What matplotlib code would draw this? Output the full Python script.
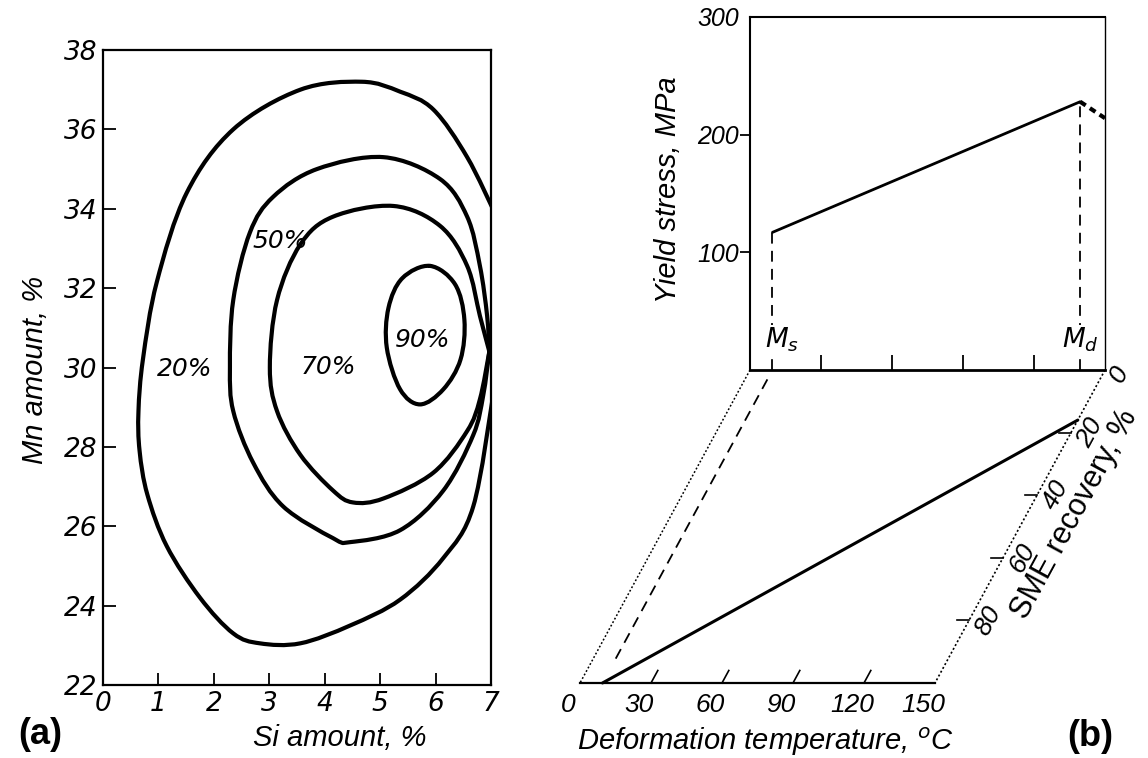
import numpy as np
import matplotlib
matplotlib.use("Agg")
import matplotlib.pyplot as plt
from matplotlib.path import Path
from matplotlib.patches import PathPatch
from matplotlib.lines import Line2D
from matplotlib.transforms import Affine2D

# ---------------- data ----------------
# (a) iso-lines of shape-memory recovery over Si / Mn content (wt.%)
contour_names = ["20%", "50%", "70%", "90%"]
si_20 = [7.10, 6.57, 5.96, 5.36, 4.67, 3.56, 2.35, 1.51, 0.97, 0.72, 0.64, 0.66,
         0.80, 1.15, 1.75, 2.35, 2.83, 3.56, 4.46, 5.36, 6.14, 6.68, 7.05]
mn_20 = [33.8, 35.3, 36.5, 36.95, 37.2, 37.0, 36.0, 34.4, 32.15, 30.2, 28.9, 27.9,
         26.8, 25.5, 24.2, 23.3, 23.05, 23.05, 23.5, 24.15, 25.2, 26.5, 29.4]
si_50 = [6.97, 6.93, 6.80, 6.57, 6.08, 5.06, 3.86, 3.07, 2.65, 2.35, 2.29, 2.35,
         2.71, 3.25, 4.15, 4.46, 5.36, 6.14, 6.68, 6.86, 6.97]
mn_50 = [30.4, 31.3, 32.56, 33.8, 34.75, 35.3, 35.0, 34.3, 33.4, 31.7, 30.0, 28.9,
         27.6, 26.5, 25.7, 25.6, 25.9, 26.9, 28.3, 29.3, 30.4]
si_70 = [6.97, 6.80, 6.57, 6.08, 5.24, 4.15, 3.56, 3.14, 3.01, 3.14, 3.56, 4.15,
         4.51, 5.06, 5.96, 6.57, 6.80, 6.97]
mn_70 = [30.4, 31.3, 32.56, 33.57, 34.07, 33.8, 33.1, 31.7, 30.0, 28.9, 27.8, 26.9,
         26.6, 26.7, 27.35, 28.4, 29.2, 30.4]
si_90 = [5.90, 6.35, 6.52, 6.45, 6.14, 5.72, 5.36, 5.12, 5.15, 5.40]
mn_90 = [32.56, 32.1, 31.2, 30.2, 29.45, 29.07, 29.45, 30.5, 31.5, 32.25]
label_si = [1.48, 3.20, 4.06, 5.76]
label_mn = [29.95, 33.2, 30.0, 30.7]
si_ticks = [0, 1, 2, 3, 4, 5, 6, 7]
mn_ticks = [22, 24, 26, 28, 30, 32, 34, 36, 38]

# (b) yield stress and SME recovery vs deformation temperature
temp_ticks = [0, 30, 60, 90, 120, 150]
stress_ticks = [100, 200, 300]
sme_ticks = [0, 20, 40, 60, 80]
T_ms = 9.5
T_md = 139.5
yield_T = [T_ms, T_md]
yield_MPa = [117, 228]
tail_T = [T_md, 150]
tail_MPa = [228, 214]
sme_T = [T_ms, 150]
sme_pct = [100, 16]

# ---------------- figure ----------------
W, H, DPI = 1148, 758, 100
fig = plt.figure(figsize=(W / DPI, H / DPI), dpi=DPI, facecolor="white")


def px_box(l, t, r, b):
    return [l / W, 1 - b / H, (r - l) / W, (b - t) / H]


def fx(x):
    return x / W


def fy(y):
    return 1 - y / H


NUM_FONT = "DejaVu Sans"
LAB_FONT = "Liberation Sans"


def smooth_path(xs, ys, closed=False):
    """Catmull-Rom curve through the points, emitted as cubic Bezier segments."""
    pts = np.column_stack([xs, ys]).astype(float)
    n = len(pts)
    if closed:
        P = np.vstack([pts[-1], pts, pts[0], pts[1]])
    else:
        P = np.vstack([pts[0], pts, pts[-1]])
    verts = [P[1]]
    codes = [Path.MOVETO]
    nseg = n if closed else n - 1
    for i in range(1, nseg + 1):
        p0, p1, p2, p3 = P[i - 1], P[i], P[i + 1], P[i + 2]
        c1 = p1 + (p2 - p0) / 6.0
        c2 = p2 - (p3 - p1) / 6.0
        verts += [c1, c2, p2]
        codes += [Path.CURVE4] * 3
    return Path(np.array(verts), codes)


# ---------- panel (a) ----------
axa = fig.add_axes(px_box(103, 50, 491, 685))
axa.set_xlim(0, 7)
axa.set_ylim(22, 38)
for sp in axa.spines.values():
    sp.set_linewidth(1.6)
axa.set_xticks(si_ticks)
axa.set_yticks(mn_ticks)
axa.tick_params(direction="in", length=9, width=1.3, labelsize=19, pad=4)
for lbl in axa.get_xticklabels() + axa.get_yticklabels():
    lbl.set_fontstyle("italic")
    lbl.set_family(NUM_FONT)

curves = [(si_20, mn_20, False), (si_50, mn_50, False),
          (si_70, mn_70, False), (si_90, mn_90, True)]
for xs, ys, closed in curves:
    patch = PathPatch(smooth_path(xs, ys, closed), fill=False, lw=3.0,
                      ec="black", capstyle="round", joinstyle="round")
    axa.add_patch(patch)

for name, x, y in zip(contour_names, label_si, label_mn):
    axa.text(x, y, name, fontsize=18, style="italic", family=NUM_FONT,
             ha="center", va="center")

fig.text(fx(35), fy(370), "Mn amount, %", rotation=90, fontsize=21,
         style="italic", family=LAB_FONT, ha="center", va="center")
fig.text(fx(340), fy(738), "Si amount, %", fontsize=21, style="italic",
         family=LAB_FONT, ha="center", va="center")
fig.text(fx(40), fy(735), "(a)", fontsize=26, weight="bold",
         family=LAB_FONT, ha="center", va="center")

# ---------- panel (b): yield stress box ----------
axb = fig.add_axes(px_box(750, 17, 1105, 370))
axb.set_xlim(0, 150)
axb.set_ylim(0, 300)
axb.set_autoscale_on(False)
axb.spines["left"].set_linewidth(1.5)
axb.spines["top"].set_linewidth(1.5)
axb.spines["right"].set_linewidth(1.0)
axb.spines["bottom"].set_linewidth(2.0)
axb.set_xticks(temp_ticks[1:-1])
axb.tick_params(axis="x", direction="in", length=11, width=1.3, labelbottom=False)
axb.set_yticks(stress_ticks)
axb.tick_params(axis="y", direction="out", length=7, width=1.3, labelsize=18, pad=1)
axb.yaxis.get_major_ticks()[-1].tick1line.set_visible(False)
for lbl in axb.get_yticklabels():
    lbl.set_fontstyle("italic")
    lbl.set_family(LAB_FONT)

axb.plot(yield_T, yield_MPa, color="black", lw=2.0, solid_capstyle="round")
axb.plot(tail_T, tail_MPa, color="black", lw=3.0, ls=(0, (1.6, 1.2)))
axb.plot([T_ms, T_ms], [0, yield_MPa[0]], color="black", lw=1.3, ls=(0, (6, 4)))
axb.plot([T_md, T_md], [0, yield_MPa[1]], color="black", lw=1.3, ls=(0, (6, 4)))
box = dict(fc="white", ec="none", pad=0.5)
axb.text(T_ms + 4, 25.5, r"$M_s$", fontsize=19, ha="center", va="center", bbox=box)
axb.text(T_md, 25.5, r"$M_d$", fontsize=19, ha="center", va="center", bbox=box)

fig.text(fx(668), fy(190), "Yield stress, MPa", rotation=90, fontsize=21,
         style="italic", family=LAB_FONT, ha="center", va="center")

# ---------- panel (b): oblique SME-recovery plane ----------
# (temperature, SME %) -> stress-box data coordinates, receding down and to the left
plane = Affine2D(np.array([[1.0, -0.7183, 0.0],
                           [0.0, -2.660, 0.0],
                           [0.0, 0.0, 1.0]])) + axb.transData


def pline(T, S, **kw):
    ln = Line2D(T, S, transform=plane, clip_on=False, color="black", **kw)
    axb.add_line(ln)


pline([0, 0], [0, 100], lw=1.1, ls=(0, (1.2, 1.4)))
pline([150, 150], [0, 100], lw=1.2, ls=(0, (1.2, 1.4)))
pline([0, 150], [100, 100], lw=1.6)
for t in temp_ticks[1:-1]:
    pline([t, t], [100, 96], lw=1.2)
for s in sme_ticks[1:]:
    pline([150, 145], [s, s], lw=1.2)
pline(sme_T, sme_pct, lw=2.2, solid_capstyle="round")
pline([T_ms, T_ms], [3, 94], lw=1.3, ls=(0, (6, 4)))

for t in temp_ticks:
    axb.text(t, 107, f"{t}", transform=plane, fontsize=19, style="italic",
             family=LAB_FONT, ha="center", va="center", clip_on=False)
for s in sme_ticks:
    axb.text(158 if s else 157, s + (0 if s else 1.5), f"{s}", transform=plane,
             fontsize=19, style="italic", family=LAB_FONT, rotation=61.5,
             rotation_mode="anchor", ha="center", va="center", clip_on=False)
axb.text(170, 46, "SME recovery, %", transform=plane, fontsize=22,
         family=LAB_FONT, rotation=61.5, rotation_mode="anchor",
         ha="center", va="center", clip_on=False)

fig.text(fx(765), fy(742), "Deformation temperature, $^o$C", fontsize=21,
         style="italic", family=LAB_FONT, ha="center", va="center")
fig.text(fx(1090), fy(737), "(b)", fontsize=26, weight="bold",
         family=LAB_FONT, ha="center", va="center")

fig.savefig("out.png", dpi=DPI, facecolor="white")
